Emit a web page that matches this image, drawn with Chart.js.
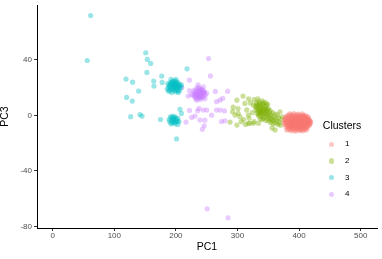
<!DOCTYPE html>
<html><head><meta charset="utf-8">
<script src="https://cdn.jsdelivr.net/npm/chart.js@4.4.1/dist/chart.umd.min.js"></script>
<style>
html,body{margin:0;padding:0;background:#fff;}
#wrap{position:relative;width:382px;height:259px;overflow:hidden;font-family:"Liberation Sans",Arial,sans-serif;}
canvas{position:absolute;left:0;top:0;}
.lg{position:absolute;white-space:nowrap;color:#000;}
.lgt{font-size:10.5px;line-height:10.5px;}
.lgl{font-size:8px;line-height:8px;}
.dot{position:absolute;width:5.4px;height:5.4px;border-radius:50%;}
</style></head><body>
<div id="wrap"><canvas id="c" width="382" height="259"></canvas><div id="legend"></div></div>
<script>
const categories = ['1','2','3','4'];
const colors = ['#F8766D','#7CAE00','#00BFC4','#C77CFF'];
const xTicks = [0,100,200,300,400,500];
const yTicks = [-80,-40,0,40];

const cluster1 = [
[385,1.2],[391.5,1.4],[398,0.9],[405,1.1],
[380,-0.4],[386.5,-0.2],[391,-0.6],[396.5,-0.3],[401.5,-0.7],[407,-0.2],[412,-0.8],
[377.5,-2.1],[383,-1.8],[388.5,-2.3],[394,-1.9],[399.5,-2.2],[404,-1.7],[409.5,-2.4],[414,-2.0],
[376,-3.6],[381.5,-3.3],[386,-3.8],[391.5,-3.4],[396,-3.7],[401.5,-3.2],[406,-3.9],[411.5,-3.5],[416,-3.4],
[376.5,-5.1],[380.5,-4.8],[385.5,-5.3],[390,-4.9],[395.5,-5.2],[400,-4.7],[405.5,-5.4],[410,-5.0],[415,-5.2],[418.5,-4.9],
[377,-6.6],[382.5,-6.3],[387,-6.8],[392.5,-6.4],[397,-6.7],[402.5,-6.2],[407,-6.9],[412.5,-6.5],[417,-6.6],
[379,-8.1],[384.5,-7.8],[389,-8.3],[394.5,-7.9],[399,-8.2],[404.5,-7.7],[409,-8.4],[414,-8.0],
[382,-9.6],[388,-9.3],[393.5,-9.8],[398,-9.4],[403.5,-9.7],[408,-9.2],[413,-9.5],
[387,-11.0],[394,-11.3],[400.5,-10.8],[406,-11.1],
[393,-4.1],[398,-6.1],[403,-2.9],[388,-5.9],[395,-8.1],[401,-1.2],[390,-2.1],[405,-7.2],
[397,-3.1],[392,-7.0],[399,-9.0],[386,-4.2],[408,-5.1],[411,-2.1],[384,-7.1],[380,-10.5],
[383,0.3],[389,0.5],[394.5,0.2],[400,0.4],[406,0.1],[410,0.0],
[378.5,-1.2],[384,-1.0],[389.5,-1.4],[395,-1.1],[400.5,-1.3],[406,-0.9],[410.5,-1.5],[415,-1.2],
[379,-2.8],[384.5,-2.7],[390,-3.0],[395.5,-2.6],[400,-2.9],[405.5,-2.6],[410,-3.0],[415.5,-2.8],[418,-3.9],
[378,-4.3],[383.5,-4.1],[388.5,-4.4],[393.5,-4.3],[398.5,-4.0],[403.5,-4.5],[408.5,-4.2],[413.5,-4.4],[417.5,-4.3],
[379,-5.8],[384,-6.0],[389.5,-5.7],[394,-6.0],[399.5,-5.6],[404,-6.1],[409.5,-5.8],[414,-6.0],[418,-5.9],
[380.5,-7.3],[386,-7.5],[391,-7.2],[396.5,-7.4],[401,-7.1],[406.5,-7.5],[411,-7.3],[416,-7.2],
[383,-8.8],[387.5,-9.0],[392.5,-8.7],[397.5,-8.9],[402,-8.6],[407,-8.9],[411.5,-8.7],
[385,-10.3],[391,-10.5],[396.5,-10.2],[402,-10.4],[407.5,-10.1],[411,-10.5]
];

const cluster2 = [
[331,9],[335,10],[340,10.5],[345,9.5],[349,8],[329,6.5],[333,7],[337,7.5],[341,8],[346,6.5],
[350,5],[330,4],[334,4.5],[338,5],[342,5.5],[347,3.5],[332,1.5],[336,2],[340,2.5],[344,1.5],
[348,1],[339,0],[335,-0.5],[343,-1],[352,2],[326,7.5],[327,11.5],[333,12],[338,3],[344,4],
[353,3.5],[357,2],[361,1],[365,0.5],[369,2.6],[351,-1],[355,-2],[359,-3],[363,-2.5],[367,-1.5],
[371,-3],[354,-5],[358,-6],[362,-5.5],[366,-6.5],[370,-7],[361,-10.4],[356,-9],[350,-4],[346,-3.5],
[340,-3],[334,-5.7],[327,-4.5],[373,-1],
[332,8],[336,8.5],[342,9],[347,8],[331,5.5],[336,6],[340,6.5],[345,5],[349,4],[333,3],
[337,3.5],[341,4],[346,2.5],[334,0.5],[338,1.5],[342,1],[347,0],[351,0.5],[355,0],[359,-1],
[364,-4],[357,-4],[353,-3],[368,-5],[348,-2],[342,-2],[337,-2.5],
[309,14],[299,11],[312,8.7],[293,6],[301,5],[292,2.7],[296,0.3],[304,-0.9],[317.5,0.3],[301,1.5],
[288,-4.8],[299,-6.9],[306,-4.5],[319,-2.1],[320,-5.7],[325.6,-5.7],[317.5,-5.7],[315,4],[321,9],
[318,12],[324,2],[310,-3],[313,-6.5]
];

const cluster3 = [
[190,22],[193,24],[197,25],[201,24.5],[205,23],[188,20],[192,21],[196,22],[200,22.5],[204,21],
[208,20],[190,18],[194,19],[198,19.5],[202,19],[206,18],[193,16.5],[199,17],[204,16.5],[195,23],
[199,21],[203,22],[197,20],[201,20.5],[195,20],[209,22],[187,23],[200,26],[192,26],[186,19],
[191,23.5],[195,24.5],[199,24],[203,23.5],[207,21.5],[189,21.5],[193,22.5],[197,23],[201,22],
[205,19.5],[191,19.5],[196,18],[200,18.5],[203,17.5],[188,17.5],[196,21],[198,22],[202,20.5],
[191,-1],[195,-0.5],[199,-1],[203,-2],[189,-3],[193,-3.5],[197,-3],[201,-4],[205,-4.5],[194,-5.5],
[199,-6],[196,-2],[192,-6],[203,-6.5],
[193,-1.5],[197,-1.5],[201,-2.5],[190,-4.5],[195,-4],[199,-4.5],[203,-4],[197,-5],
[61.6,72],[56,39.6],[151,45.2],[153.6,40.4],[159,37.5],[153,31],[119,26.2],[129.7,24],[139.6,17.6],
[120,13],[129.2,10.4],[126.6,-0.9],[141.6,0.7],[145,-0.5],[175,-2.9],[164,24.8],[164.4,21.2],
[177,28.4],[177.7,23.8],[218,33.6],[206.6,4.4],[209,1.5],[201,-16.9]
];

const cluster4 = [
[229,18],[233,19.5],[237,20],[241,19],[245,18],[228,15],[232,16],[236,17],[240,16.5],[244,15.5],
[248,14.5],[231,13],[235,13.5],[239,14],[243,13],[247,12],[234,11],[240,11.5],[238,18],[242,17],
[236,15],[239,16],[233,14.5],[241,15],[246,16.5],[222,18],[225,15],[220,14],
[230,17],[234,18],[238,19],[242,18.5],[246,17],[230,14],[234,16],[238,16],[242,14.5],[245,14],
[233,12],[237,12.5],[241,13],[236,14],[240,18],[244,16.5],[232,15],[238,13.5],
[253,41],[256,28.5],[222,25.5],[209.5,20.2],[236,22],[244.5,20.7],[250,16],[264,17.3],[284,17.5],
[276,12.3],[271.6,11],[266,9.9],[272,3.9],[279,3.3],[266,3.9],[258,0.2],[222,3.6],[235.4,3.4],
[237.5,5.1],[231,-0.4],[225.6,-1.4],[239,-3.3],[216.4,-4.8],[247,-3.4],[246,-7.5],[243,-10],
[250,3.9],[244.5,3.9],[274,-4.4],[279.5,-3.9],[250.7,-67.3],[284.7,-73.8]
];

const seriesData = [cluster1, cluster2, cluster3, cluster4];

function rgba(hex, a){
  const n = parseInt(hex.slice(1),16);
  return 'rgba('+((n>>16)&255)+','+((n>>8)&255)+','+(n&255)+','+a+')';
}
const ALPHA = 0.4;
const FONT = '"Liberation Sans", Arial, sans-serif';

const datasets = seriesData.map((pts,i)=>({
  label: categories[i],
  data: pts.map(p=>({x:p[0], y:p[1]})),
  backgroundColor: rgba(colors[i], ALPHA),
  borderWidth: 0,
  pointRadius: 2.6,
  pointHoverRadius: 2.6,
  pointBorderWidth: 0
}));

function fixPad(s){ s.paddingLeft=0; s.paddingRight=0; s.paddingTop=0; s.paddingBottom=0; }

new Chart(document.getElementById('c'), {
  type: 'scatter',
  data: { datasets },
  options: {
    responsive: false,
    animation: false,
    devicePixelRatio: 1,
    layout: { padding: { left: 0, top: 5, right: 5, bottom: 0 } },
    plugins: { legend: { display: false }, tooltip: { enabled: false } },
    scales: {
      x: {
        type: 'linear', min: -25.5, max: 526.5,
        afterBuildTicks: s => { s.ticks = xTicks.map(v=>({value:v})); },
        afterFit: s => { s.height = 31; fixPad(s); },
        border: { display: true, color: '#000', width: 1 },
        grid: { drawOnChartArea: false, drawTicks: true, tickLength: 3, color: '#333', lineWidth: 1 },
        ticks: { color: '#4d4d4d', font: { size: 8, family: FONT }, padding: 0, maxRotation: 0, autoSkip: false },
        title: { display: true, text: 'PC1', color: '#000', font: { size: 10.5, family: FONT, lineHeight: 1 }, padding: { top: 0, bottom: 6.2 } }
      },
      y: {
        type: 'linear', min: -81.1, max: 79.6,
        afterBuildTicks: s => { s.ticks = yTicks.map(v=>({value:v})); },
        afterFit: s => { s.width = 37; fixPad(s); },
        border: { display: true, color: '#000', width: 1 },
        grid: { drawOnChartArea: false, drawTicks: true, tickLength: 3, color: '#333', lineWidth: 1 },
        ticks: { color: '#4d4d4d', font: { size: 8, family: FONT }, padding: 2, autoSkip: false },
        title: { display: true, text: 'PC3', color: '#000', font: { size: 10.5, family: FONT, lineHeight: 1 }, padding: { top: 0, bottom: 0 } }
      }
    }
  }
});

// legend (HTML text)
const lg = document.getElementById('legend');
const t = document.createElement('div');
t.className = 'lg lgt'; t.style.left = '322.8px'; t.style.top = '119.8px'; t.textContent = 'Clusters';
lg.appendChild(t);
const itemY = [144.2, 161.0, 177.6, 194.2];
categories.forEach((c,i)=>{
  const d = document.createElement('div');
  d.className = 'dot';
  d.style.left = (331.7-2.7)+'px'; d.style.top = (itemY[i]-2.7)+'px';
  d.style.background = rgba(colors[i], ALPHA);
  lg.appendChild(d);
  const l = document.createElement('div');
  l.className = 'lg lgl'; l.style.left = '345px'; l.style.top = (itemY[i]-3.9)+'px';
  l.textContent = c;
  lg.appendChild(l);
});
</script>
</body></html>
